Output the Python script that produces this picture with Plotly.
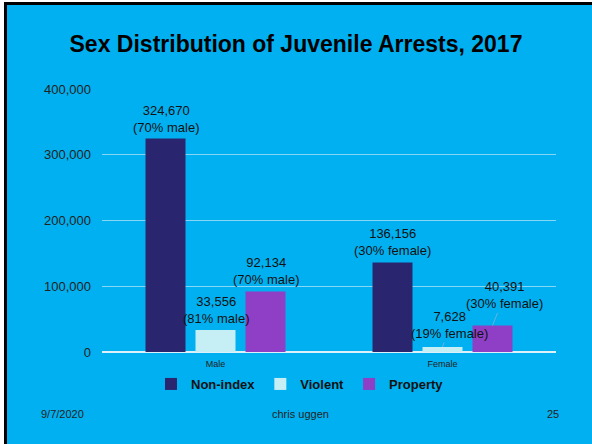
import plotly.graph_objects as go

# Arrest counts by sex and offense type, 2017
categories = ["Male", "Female"]
series_names = ["Non-index", "Violent", "Property"]
non_index = [324670, 136156]
violent = [33556, 7628]
prop = [92134, 40391]
# Share of each offense type's arrests accounted for by that sex (%)
share_pct = {
    "Non-index": [70, 30],
    "Violent": [81, 19],
    "Property": [70, 30],
}
sex_word = ["male", "female"]
y_ticks = [0, 100000, 200000, 300000, 400000]

colors = {"Non-index": "#29266F", "Violent": "#C6EEF5", "Property": "#8E3FC6"}
values = {"Non-index": non_index, "Violent": violent, "Property": prop}

BG = "#00B0F0"
FONT = "Liberation Sans, Arial"
W, H = 592, 444
L, R, T, B = 102, 36, 89, 92
plot_w = W - L - R
plot_h = H - T - B


def px_x(px):
    return (px - L) / plot_w


def px_y(py):
    return (H - B - py) / plot_h


fig = go.Figure()
for name in series_names:
    fig.add_trace(go.Bar(
        x=categories, y=values[name], name=name,
        marker=dict(color=colors[name], line=dict(width=0)),
    ))

# slot width (px) of one bar within its group
slot = 50
offsets = {"Non-index": -slot, "Violent": 0, "Property": slot}
# leader-line offsets for labels pushed away from short bars
leader = {("Violent", 1): (7, -22), ("Property", 1): (12, -30)}

annotations = []
for name in series_names:
    for i, cat in enumerate(categories):
        v = values[name][i]
        txt = f"{v:,}<br>({share_pct[name][i]}% {sex_word[i]})"
        base = dict(x=cat, y=v, xref="x", yref="y", text=txt,
                    xshift=offsets[name],
                    font=dict(family=FONT, size=13, color="#111"))
        if (name, i) in leader:
            ax, ay = leader[(name, i)]
            base.update(showarrow=True, arrowhead=0, arrowwidth=0.8,
                        arrowcolor="#7DB6D6", ax=ax, ay=ay, standoff=0)
        else:
            base.update(showarrow=False, yanchor="bottom", yshift=2)
        annotations.append(base)

# footer
foot_font = dict(family=FONT, size=11, color="#222")
for txt, px in [("9/7/2020", 62), ("chris uggen", 300), ("25", 553)]:
    annotations.append(dict(text=txt, x=px_x(px), y=px_y(414), xref="paper", yref="paper",
                            showarrow=False, xanchor="center", yanchor="middle", font=foot_font))

shapes = [
    # slide frame: white edge with black rule along top and left
    dict(type="rect", xref="paper", yref="paper", x0=px_x(0), x1=px_x(4), y0=px_y(H), y1=px_y(0),
         fillcolor="white", line=dict(width=0), layer="above"),
    dict(type="rect", xref="paper", yref="paper", x0=px_x(0), x1=px_x(W), y0=px_y(2), y1=px_y(0),
         fillcolor="white", line=dict(width=0), layer="above"),
    dict(type="rect", xref="paper", yref="paper", x0=px_x(4), x1=px_x(W), y0=px_y(5), y1=px_y(2),
         fillcolor="black", line=dict(width=0), layer="above"),
    dict(type="rect", xref="paper", yref="paper", x0=px_x(4), x1=px_x(7), y0=px_y(H), y1=px_y(2),
         fillcolor="black", line=dict(width=0), layer="above"),
]

fig.update_layout(
    width=W, height=H,
    margin=dict(l=L, r=R, t=T, b=B, pad=0),
    paper_bgcolor=BG, plot_bgcolor=BG,
    barmode="group", bargap=1 - 3 * slot / plot_w * 2, bargroupgap=0.2,
    font=dict(family=FONT, color="#111"),
    title=dict(text="<b>Sex Distribution of Juvenile Arrests, 2017</b>",
               x=0.5, xanchor="center", y=1 - 44 / H, yanchor="middle",
               font=dict(family=FONT, size=23, color="black")),
    xaxis=dict(showgrid=False, showline=False, zeroline=False, ticks="",
               tickfont=dict(size=9, color="#222"), ticklabelstandoff=5),
    yaxis=dict(range=[0, 400000], tickvals=y_ticks, tickformat=",",
               showgrid=True, gridcolor="#86D6F5", gridwidth=1,
               zeroline=True, zerolinecolor="#DDF1FA", zerolinewidth=1.5,
               showline=False, ticks="", ticklabelstandoff=10,
               tickfont=dict(size=13, color="#222")),
    legend=dict(orientation="h", x=px_x(300), xanchor="center", y=px_y(384), yanchor="middle",
                bgcolor="rgba(0,0,0,0)", font=dict(size=13, color="#111", weight="bold"),
                itemclick=False),
    annotations=annotations,
    shapes=shapes,
)

fig.write_html("out.html")
